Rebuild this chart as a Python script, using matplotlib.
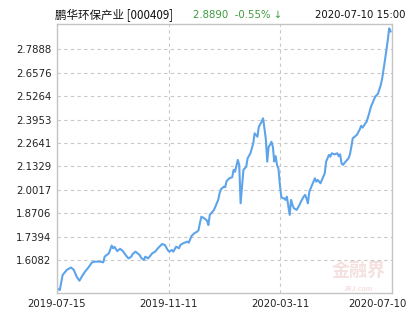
import matplotlib
matplotlib.use("Agg")
import matplotlib.pyplot as plt
from matplotlib.transforms import ScaledTranslation

plt.rcParams['font.family'] = ['Noto Sans CJK SC', 'DejaVu Sans']

# trading-day index and NAV
day = [0, 2, 4, 7, 10, 12, 14, 16, 18, 20, 22, 25, 27, 31, 33, 34, 37, 39, 40, 41,
       43, 45, 47, 49, 51, 53, 54, 56, 59, 60, 62, 63, 65, 68, 70, 72, 75, 77, 79, 80,
       82, 83, 85, 87, 88, 90, 93, 94, 96, 98, 100, 101, 102, 103, 105, 107, 108, 109, 110, 112,
       113, 115, 116, 117, 119, 120, 121, 123, 125, 126, 127, 129, 130, 131, 132, 133, 135, 136, 138, 139,
       140, 141, 143, 144, 146, 147, 148, 149, 150, 151, 152, 153, 154, 155, 156, 157, 158, 159, 160, 161,
       162, 163, 164, 166, 167, 168, 169, 171, 173, 174, 176, 177, 178, 179, 180, 182, 184, 185, 186, 188,
       190, 191, 192, 193, 194, 195, 196, 198, 200, 201, 202, 203, 204, 206, 208, 209, 210, 211, 214, 216,
       217, 218, 221, 222, 224, 226, 227, 229, 231, 232, 234, 236, 237, 238]
nav = [1.450, 1.440, 1.524, 1.553, 1.566, 1.553, 1.515, 1.492, 1.519, 1.543, 1.562, 1.595, 1.599, 1.599, 1.595, 1.627, 1.646, 1.689, 1.674, 1.682,
       1.658, 1.671, 1.658, 1.636, 1.617, 1.627, 1.642, 1.655, 1.636, 1.621, 1.608, 1.627, 1.617, 1.646, 1.655, 1.674, 1.698, 1.692, 1.664, 1.655,
       1.664, 1.655, 1.683, 1.674, 1.692, 1.702, 1.711, 1.705, 1.743, 1.758, 1.767, 1.776, 1.817, 1.851, 1.842, 1.829, 1.804, 1.861, 1.870, 1.889,
       1.907, 1.945, 1.982, 2.005, 2.019, 2.016, 2.051, 2.066, 2.072, 2.113, 2.103, 2.169, 2.141, 1.926, 2.019, 2.113, 2.131, 2.178, 2.206, 2.234,
       2.262, 2.318, 2.299, 2.355, 2.383, 2.402, 2.346, 2.284, 2.159, 2.243, 2.253, 2.271, 2.243, 2.160, 2.190, 2.140, 2.120, 2.030, 1.963, 1.954,
       1.954, 1.945, 1.963, 1.861, 1.945, 1.917, 1.898, 1.889, 1.917, 1.935, 1.963, 1.973, 1.954, 1.926, 1.991, 2.029, 2.066, 2.047, 2.057, 2.038,
       2.075, 2.094, 2.159, 2.178, 2.197, 2.187, 2.206, 2.200, 2.206, 2.190, 2.200, 2.150, 2.141, 2.160, 2.178, 2.200, 2.243, 2.290, 2.310, 2.340,
       2.360, 2.350, 2.385, 2.411, 2.467, 2.505, 2.523, 2.540, 2.589, 2.626, 2.729, 2.841, 2.906, 2.889]

yticks = [1.6082, 1.7394, 1.8706, 2.0017, 2.1329, 2.2641, 2.3953, 2.5264, 2.6576, 2.7888]
xlabels = ['2019-07-15', '2019-11-11', '2020-03-11', '2020-07-10']
n_days = 239

fig = plt.figure(figsize=(4.15, 3.30), dpi=100)
ax = fig.add_axes([57/415, 37/330, 335/415, 269/330])

ax.plot(day, nav, color='#5ea4ea', lw=1.5, solid_joinstyle='round')

ax.set_xlim(0, n_days)
ax.set_ylim(1.4233, 2.9305)
ax.set_yticks(yticks)
ax.set_yticklabels(['%.4f' % v for v in yticks])
xt = [0, n_days/3, 2*n_days/3, n_days]
ax.set_xticks(xt)
ax.set_xticklabels(xlabels)
ax.tick_params(length=0, labelsize=7.3, colors='#222222', pad=4)
for lbl in ax.get_xticklabels() + ax.get_yticklabels():
    lbl.set_family('DejaVu Sans')
last = ax.get_xticklabels()[-1]
last.set_transform(last.get_transform() + ScaledTranslation(-15/100, 0, fig.dpi_scale_trans))

ax.grid(True, color='#c8c8c8', ls=(0, (3, 3)), lw=0.8)
ax.xaxis.grid(True)
for s in ax.spines.values():
    s.set_color('#c4c4c4')
    s.set_linewidth(1.0)

# watermark
ax.text(0.90, 0.085, '金融界', transform=ax.transAxes, ha='center', va='center',
        fontsize=13, fontweight='bold', color='#f5e0e0', zorder=0)
ax.text(0.90, 0.018, 'JRJ.com', transform=ax.transAxes, ha='center', va='center',
        fontsize=5, fontweight='bold', color='#f5e0e0', zorder=0)

# header
fig.text(55/415, 1 - 15/330, '鹏华环保产业 [000409]', ha='left', va='center', fontsize=8.3, color='#111111')
fig.text(193/415, 1 - 15/330, '2.8890  -0.55% ↓', ha='left', va='center', fontsize=7.3, color='#3c9a3c',
         family='DejaVu Sans')
fig.text(405/415, 1 - 15/330, '2020-07-10 15:00', ha='right', va='center', fontsize=7.3, color='#111111',
         family='DejaVu Sans')

fig.savefig('out.png', dpi=100)
